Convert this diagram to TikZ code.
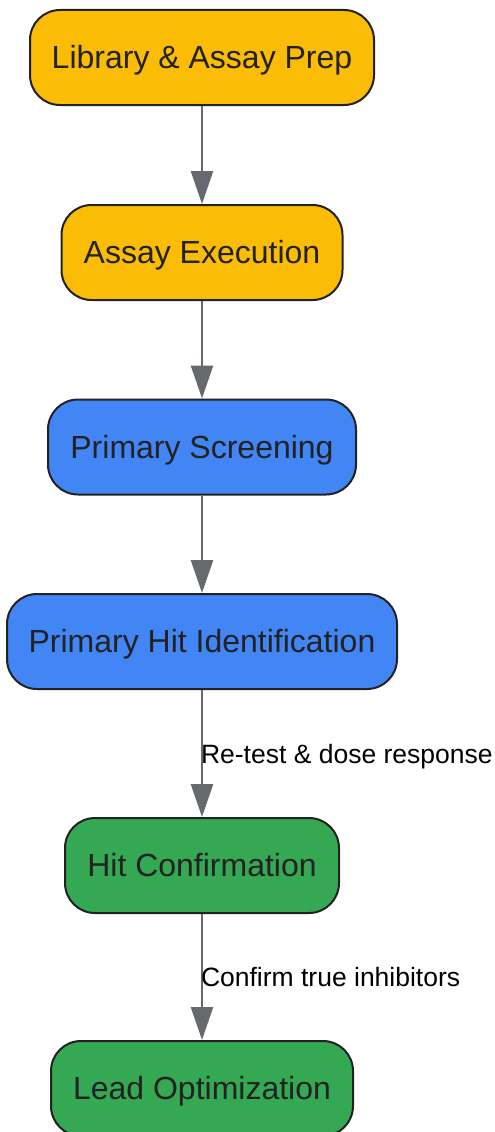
\documentclass[tikz,border=0pt]{standalone}
\usepackage{fontspec}
\setmainfont{Liberation Sans}
\usepackage{tikz}
\usetikzlibrary{arrows.meta,positioning}
\definecolor{prepyellow}{HTML}{FBBC05}
\definecolor{screenblue}{HTML}{4285F4}
\definecolor{hitgreen}{HTML}{34A853}
\definecolor{edgegray}{RGB}{102,106,112}
\definecolor{inkdark}{HTML}{222222}

\begin{document}
\begin{tikzpicture}
  [x=1pt,y=-1pt,
   every node/.style={rectangle,rounded corners=30pt,draw=inkdark,line width=2pt,
     minimum height=95pt,text=inkdark,font=\fontsize{32}{38}\selectfont,
     text height=22.9pt,text depth=0pt},
   flowlbl/.style={draw=none,rectangle,rounded corners=0pt,minimum height=0pt,
     text=black,font=\fontsize{26.5}{32}\selectfont,inner xsep=0pt,anchor=west,
     text height=19pt,text depth=0pt}]
  \useasboundingbox (0,0) rectangle (495,1132);
  \node[fill=prepyellow,minimum width=344pt] (prep) at (202,57.5) {Library \& Assay Prep};
  \node[fill=prepyellow,minimum width=281pt] (exec) at (202,252.5) {Assay Execution};
  \node[fill=screenblue,minimum width=308pt] (screen) at (202,447) {Primary Screening};
  \node[fill=screenblue,minimum width=390pt] (hitid) at (202,641.5) {Primary Hit Identification};
  \node[fill=hitgreen,minimum width=274pt] (confirm) at (202,865.5) {Hit Confirmation};
  \node[fill=hitgreen,minimum width=302pt] (lead) at (202,1088.5) {Lead Optimization};

  \foreach \from/\to/\lbl in {prep/exec/,exec/screen/,screen/hitid/,
   hitid/confirm/Re-test \& dose response,confirm/lead/Confirm true inhibitors}
    \draw[edgegray,line width=2.5pt,-{Triangle[length=33pt,width=22pt]}]
      (\from) -- node[flowlbl,midway,xshift=-2pt] {\lbl} (\to);
\end{tikzpicture}
\end{document}
